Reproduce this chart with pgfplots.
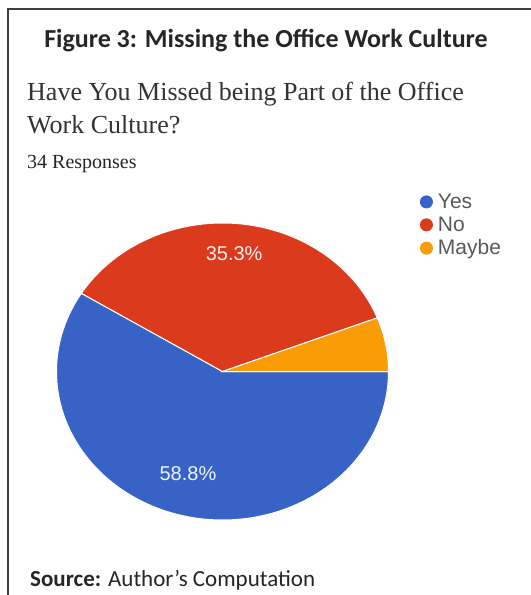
\documentclass[border=0pt]{standalone}
\usepackage{pgfplots}
\pgfplotsset{compat=1.18}
\usepackage{pgfplotstable}
\usepackage{fontspec}
\setmainfont{Liberation Serif}
\newfontfamily\carlito{Carlito}
\newfontfamily\arial{Liberation Sans}
\definecolor{gyes}{HTML}{3763C6}
\definecolor{gno}{HTML}{DC3A1C}
\definecolor{gmaybe}{HTML}{FA9C05}

\pgfplotstableread{
label value
Yes 20
No 12
Maybe 2
}\piedata

\begin{document}
\begin{tikzpicture}
\useasboundingbox (0,0) rectangle (531bp,-595bp);
\fill[white] (0,0) rectangle (531bp,-595bp);
\draw[line width=2bp, color=black!75] (8bp,-595bp) -- (8bp,-9bp) -- (531bp,-9bp);
\node[anchor=base, inner sep=0pt, font=\carlito\bfseries\fontsize{26bp}{30bp}\selectfont, text=black!85] at (266bp,-47bp) {Figure 3: Missing the Office Work Culture};
\node[anchor=base west, inner sep=0pt, font=\fontsize{26bp}{30bp}\selectfont, text=black!80] at (27bp,-100bp) {Have You Missed being Part of the Office};
\node[anchor=base west, inner sep=0pt, font=\fontsize{26bp}{30bp}\selectfont, text=black!80] at (27bp,-133bp) {Work Culture?};
\node[anchor=base west, inner sep=0pt, font=\fontsize{20bp}{24bp}\selectfont, text=black!85] at (27bp,-168bp) {34 Responses};
\node[anchor=base west, inner sep=0pt, font=\carlito\fontsize{23bp}{27bp}\selectfont, text=black!85] at (30bp,-586bp) {\textbf{Source:} Author’s Computation};

\pgfplotstablegetelem{0}{value}\of\piedata \let\vA\pgfplotsretval
\pgfplotstablegetelem{1}{value}\of\piedata \let\vB\pgfplotsretval
\pgfplotstablegetelem{2}{value}\of\piedata \let\vC\pgfplotsretval
\pgfmathsetmacro\tot{\vA+\vB+\vC}
\pgfmathsetmacro\aA{-360*\vA/\tot}
\pgfmathsetmacro\aB{\aA-360*\vB/\tot}
\pgfmathsetmacro\mA{\aA/2}
\pgfmathsetmacro\mB{(\aA+\aB)/2}
\pgfmathsetmacro\pA{100*\vA/\tot}
\pgfmathsetmacro\pB{100*\vB/\tot}

\begin{axis}[at={(222.5bp,-371.5bp)}, anchor=center, scale only axis,
  width=398.4bp, height=356.4bp,
  xmin=-1.2, xmax=1.2, ymin=-1.2, ymax=1.2,
  hide axis, clip=false,
  legend cell align=left,
  legend style={at={(0.9876,1.01)}, anchor=north west, draw=none, fill=none,
    font=\arial\fontsize{21bp}{23bp}\selectfont, text=black!65, row sep=3bp},
  legend image code/.code={\fill[#1, draw=none] (6.5bp,0) circle (6.5bp); \path[draw=none, fill=none] (0,0) rectangle (16bp,0.1bp);},
]
\addplot[forget plot, fill=gyes, draw=white, line width=1bp, domain=\aA:0, samples=150, variable=\t] ({cos(\t)},{sin(\t)}) -- (axis cs:0,0) -- cycle;
\addplot[forget plot, fill=gno, draw=white, line width=1bp, domain=\aB:\aA, samples=100, variable=\t] ({cos(\t)},{sin(\t)}) -- (axis cs:0,0) -- cycle;
\addplot[forget plot, fill=gmaybe, draw=white, line width=1bp, domain=-360:\aB, samples=30, variable=\t] ({cos(\t)},{sin(\t)}) -- (axis cs:0,0) -- cycle;

\node[font=\arial\fontsize{20bp}{22bp}\selectfont, text=white!92!gyes, yshift=6bp] at (axis cs:{0.76*cos(\mA)},{0.76*sin(\mA)}) {\pgfmathprintnumber[fixed, precision=1, fixed zerofill, assume math mode=true]{\pA}\%};
\node[font=\arial\fontsize{20bp}{22bp}\selectfont, text=white!92!gno, yshift=6bp] at (axis cs:{0.76*cos(\mB)},{0.76*sin(\mB)}) {\pgfmathprintnumber[fixed, precision=1, fixed zerofill, assume math mode=true]{\pB}\%};

\addlegendimage{gyes}
\addlegendentry{Yes}
\addlegendimage{gno}
\addlegendentry{No}
\addlegendimage{gmaybe}
\addlegendentry{Maybe}
\end{axis}
\end{tikzpicture}
\end{document}
